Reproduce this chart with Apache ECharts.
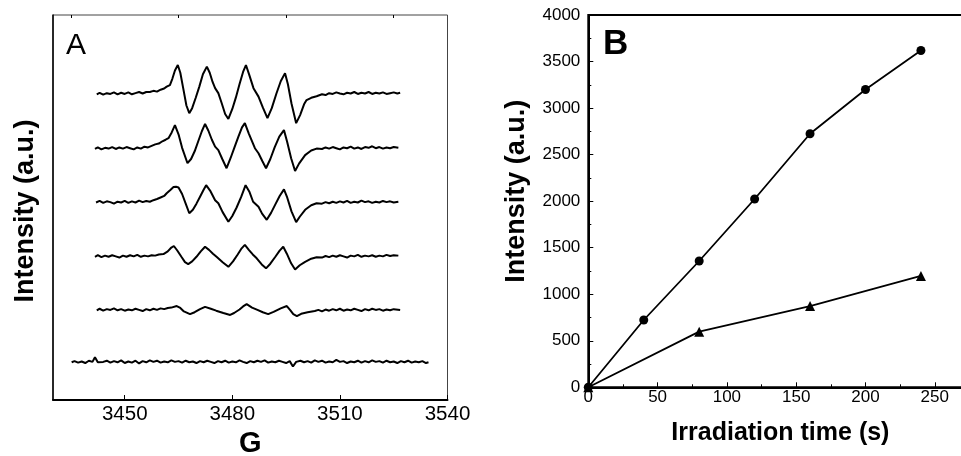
<!DOCTYPE html>
<html>
<head>
<meta charset="utf-8">
<script src="https://cdn.jsdelivr.net/npm/echarts@6/dist/echarts.min.js"></script>
<style>
html,body{margin:0;padding:0;background:#fff;}
#chart{width:961px;height:456px;}
</style>
</head>
<body>
<div id="chart"></div>
<script>
// ---------- Panel A: EPR spectra, [field (G), intensity (a.u., stacked offsets)] ----------
const fieldTicksMajor = [3450, 3480, 3510, 3540];
const fieldTicksMinor = [3435, 3465, 3495, 3525];

const spectrum240s = [[3442.2,79.4],[3443,79.8],[3444,79.3],[3445,79.7],[3446,79.5],[3447,79.9],[3448,79.4],[3449,79.8],[3450,79.5],[3451,79.9],[3452,79.4],[3453,79.7],[3454,80.0],[3455,79.6],[3456,80.0],[3457,80.0],[3458,80.3],[3459,80.1],[3460,80.6],[3461,80.9],[3461.7,81.4],[3462.6,81.8],[3463.3,83.5],[3464,85.6],[3464.8,87.0],[3465.5,85.0],[3466.3,81.0],[3467.2,76.5],[3468,74.5],[3468.8,75.8],[3469.8,78.5],[3470.8,81.4],[3471.8,84.6],[3472.9,86.6],[3473.7,85.0],[3474.5,82.6],[3475.2,81.0],[3476.1,79.7],[3477,77.2],[3478,74.3],[3478.9,73.0],[3480,75.6],[3481,78.6],[3482,82.0],[3483,85.2],[3483.8,87.0],[3484.7,84.5],[3485.9,81.0],[3487.3,78.8],[3488.5,76.0],[3489.8,73.2],[3491,75.8],[3492.3,79.6],[3493.5,82.8],[3494.7,84.9],[3495.5,82.0],[3496.5,77.0],[3497.8,71.9],[3498.9,74.0],[3500,76.8],[3500.7,77.9],[3502,78.5],[3503.5,78.9],[3505,79.4],[3506,79.2],[3507,79.7],[3508,79.5],[3509,79.9],[3510,79.6],[3511,79.4],[3512,79.8],[3513,79.6],[3514,80.0],[3515,79.5],[3516,79.8],[3517,79.6],[3518,80.0],[3519,79.5],[3520,79.8],[3521,79.6],[3522,79.9],[3523,79.5],[3524,79.7],[3525,79.9],[3526,79.6],[3526.8,79.8]];

const spectrum200s = [[3441.7,65.2],[3442.5,65.6],[3443.5,65.1],[3444.5,65.5],[3445.5,65.3],[3446.5,65.7],[3447.5,65.2],[3448.5,65.6],[3449.5,65.3],[3450.5,65.7],[3451.5,65.4],[3452.5,65.1],[3453.5,65.6],[3454.5,65.3],[3455.5,65.8],[3456.5,65.6],[3457.5,66.0],[3458.5,66.4],[3459.5,66.6],[3460.5,67.2],[3461.4,67.6],[3462.2,68.0],[3463.1,69.5],[3464,71.4],[3465,69.0],[3466,65.5],[3467.5,61.5],[3468.5,62.6],[3469.5,64.6],[3470.5,67.2],[3471.5,69.8],[3472.4,71.7],[3473.3,70.0],[3474.3,67.6],[3475.2,65.8],[3476.1,64.9],[3477.2,62.6],[3478.4,60.2],[3479.5,62.8],[3480.6,65.6],[3481.7,68.4],[3482.7,70.8],[3483.5,71.9],[3484.6,69.2],[3486.3,65.4],[3487.3,64.1],[3488.4,62.0],[3489.4,60.2],[3490.6,62.6],[3491.8,65.6],[3493.1,68.4],[3494.4,70.1],[3495.3,67.0],[3496.4,62.8],[3497.5,59.5],[3498.6,61.4],[3500.3,63.6],[3502,64.8],[3503.5,65.3],[3505,65.2],[3506,65.6],[3507,65.3],[3508,65.7],[3509,65.4],[3510,65.1],[3511,65.6],[3512,65.4],[3513,65.8],[3514,65.3],[3515,65.6],[3516,65.2],[3517,65.7],[3518,65.5],[3519,65.9],[3520,65.4],[3521,65.7],[3522,65.3],[3523,65.6],[3524,65.4],[3525,65.7],[3526.3,65.5]];

const spectrum160s = [[3442,51.3],[3443,51.7],[3444,51.2],[3445,51.6],[3446,51.4],[3447,51.0],[3448,51.5],[3449,51.3],[3450,51.7],[3451,51.2],[3452,51.6],[3453,51.3],[3454,51.8],[3455,51.4],[3456,51.7],[3457,51.5],[3458,51.9],[3459,52.2],[3460,52.6],[3461,53.0],[3461.7,53.7],[3462.8,54.6],[3463.6,55.3],[3464.3,55.4],[3465,55.2],[3466,53.5],[3467,51.0],[3468,48.5],[3469,49.4],[3470,51.0],[3471,52.8],[3472,54.6],[3472.7,55.8],[3473.8,54.4],[3475.2,51.9],[3476.1,51.1],[3477.3,48.8],[3478.9,46.3],[3480,47.8],[3481.2,50.0],[3482.5,52.8],[3483.7,55.8],[3484.8,54.0],[3485.8,51.5],[3487.3,50.2],[3488.3,48.4],[3489.6,46.8],[3490.8,48.6],[3492,50.8],[3493.2,53.0],[3494.4,54.7],[3495.3,52.6],[3496.5,49.0],[3497.8,46.2],[3498.8,47.6],[3500.3,49.4],[3502,50.6],[3503.5,51.1],[3505,51.0],[3506,51.4],[3507,51.1],[3508,51.5],[3509,51.2],[3510,51.6],[3511,51.3],[3512,51.7],[3513,51.2],[3514,51.5],[3515,51.3],[3516,51.8],[3517,51.4],[3518,51.6],[3519,51.2],[3520,51.5],[3521,51.3],[3522,51.7],[3523,51.4],[3524,51.6],[3525,51.3],[3526.3,51.5]];

const spectrum80s = [[3441.7,37.2],[3442.5,37.6],[3443.5,37.1],[3444.5,37.5],[3445.5,37.2],[3446.5,37.6],[3447.5,37.3],[3448.5,37.0],[3449.5,37.5],[3450.5,37.2],[3451.5,37.6],[3452.5,37.3],[3453.5,37.7],[3454.5,37.2],[3455.5,37.5],[3456.5,37.3],[3457.5,37.6],[3458.5,37.5],[3459.5,37.8],[3460.8,37.9],[3462,38.6],[3463,39.6],[3463.7,40.0],[3464.6,38.9],[3465.8,37.2],[3466.8,35.8],[3467.7,35.3],[3468.8,36.0],[3470,37.2],[3471.2,38.6],[3472.4,39.8],[3473.5,39.0],[3474.6,38.0],[3475.6,37.2],[3477.3,35.8],[3478.9,34.6],[3480.2,36.0],[3481.5,37.8],[3482.6,39.4],[3483.5,40.3],[3484.6,39.0],[3485.7,37.8],[3486.8,36.8],[3488.2,35.2],[3489.4,34.2],[3490.6,35.4],[3492,37.2],[3493.2,38.8],[3494.2,39.8],[3495.2,38.0],[3496.4,35.5],[3497.5,33.9],[3498.8,35.0],[3500.3,35.9],[3502,36.7],[3503.5,37.1],[3505,37.0],[3506,37.4],[3507,37.1],[3508,37.5],[3509,37.2],[3510,37.6],[3511,37.3],[3512,37.0],[3513,37.5],[3514,37.3],[3515,37.7],[3516,37.2],[3517,37.5],[3518,37.3],[3519,37.6],[3520,37.2],[3521,37.5],[3522,37.3],[3523,37.7],[3524,37.4],[3525,37.6],[3526.3,37.5]];

const spectrum40s = [[3442.2,23.3],[3443,23.7],[3444,23.2],[3445,23.6],[3446,23.4],[3447,23.8],[3448,23.3],[3449,23.6],[3450,23.2],[3451,23.5],[3452,23.3],[3453,23.7],[3454,23.4],[3455,23.1],[3456,23.6],[3457,23.3],[3458,23.7],[3459,23.4],[3460,23.8],[3461,23.6],[3462,23.9],[3463,24.0],[3464.5,24.4],[3465.5,23.9],[3466.5,23.0],[3468.2,22.3],[3469.5,22.8],[3471,23.6],[3472.4,24.2],[3474,23.7],[3475.5,23.2],[3477.5,22.6],[3479.4,22.1],[3480.5,22.6],[3482,23.5],[3483,24.3],[3484,24.9],[3485.5,24.0],[3487,23.4],[3488.5,22.8],[3490,22.3],[3491.5,22.9],[3493.5,23.8],[3495.2,24.4],[3496.2,23.3],[3497,22.3],[3498,21.8],[3499.2,22.4],[3501,22.8],[3503,23.1],[3504,23.4],[3505,23.0],[3506,23.5],[3507,23.2],[3508,23.6],[3509,23.3],[3510,23.7],[3511,23.2],[3512,23.5],[3513,23.3],[3514,23.7],[3515,23.4],[3516,23.1],[3517,23.6],[3518,23.3],[3519,23.7],[3520,23.4],[3521,23.6],[3522,23.2],[3523,23.5],[3524,23.3],[3525,23.6],[3526.8,23.4]];

const spectrum0s = [[3435.2,9.8],[3436,10.1],[3437,9.7],[3438,10.0],[3439,9.6],[3440,10.2],[3441,9.9],[3441.7,11.1],[3442.5,9.8],[3443,10.3],[3444,9.9],[3445,10.2],[3446,9.7],[3447,10.1],[3448,9.8],[3449,10.3],[3450,9.6],[3451,10.0],[3452,9.7],[3453,10.2],[3454,9.5],[3455,10.1],[3456,9.8],[3457,10.3],[3458,9.9],[3459,10.2],[3460,9.7],[3461,10.0],[3462,9.8],[3463,10.3],[3464,9.9],[3465,10.1],[3466,9.7],[3467,10.2],[3468,9.8],[3469,10.0],[3470,9.6],[3471,10.1],[3472,9.8],[3473,10.2],[3474,9.9],[3475,9.6],[3476,10.1],[3477,9.8],[3478,10.2],[3479,9.7],[3480,10.0],[3481,9.8],[3482,10.3],[3483,9.9],[3484,9.6],[3485,10.1],[3486,9.8],[3487,10.2],[3488,9.9],[3489,10.3],[3490,9.7],[3491,10.0],[3492,9.8],[3493,10.2],[3494,9.9],[3495,9.6],[3496,10.1],[3496.9,8.7],[3497.8,9.9],[3499,10.2],[3500,9.8],[3501,10.1],[3502,9.7],[3503,10.3],[3504,9.9],[3505,10.2],[3506,9.7],[3507,10.0],[3508,9.8],[3509,10.4],[3510,9.9],[3511,10.1],[3512,9.6],[3513,10.0],[3514,9.8],[3515,10.2],[3516,9.7],[3517,10.1],[3518,9.8],[3519,10.3],[3520,9.9],[3521,10.1],[3522,9.7],[3523,10.2],[3524,9.8],[3525,10.0],[3526,9.6],[3527,10.1],[3528,9.8],[3529,10.2],[3530,9.7],[3531,10.0],[3532,9.8],[3533,10.1],[3534,9.6],[3534.7,9.8]];

// ---------- Panel B: intensity vs irradiation time ----------
const timeCircles = [0, 40, 80, 120, 160, 200, 240];
const intensityCircles = [0, 723, 1357, 2023, 2724, 3200, 3618];
const timeTriangles = [0, 80, 160, 240];
const intensityTriangles = [0, 598, 873, 1196];

const FONT = 'Liberation Sans, Arial, Helvetica, sans-serif';
const zip = (xs, ys) => xs.map((x, i) => [x, ys[i]]);
const plain = v => String(v);

const spectra = [spectrum240s, spectrum200s, spectrum160s, spectrum80s, spectrum40s, spectrum0s];

const chart = echarts.init(document.getElementById('chart'), null, {renderer: 'canvas'});
const option = {
  backgroundColor: '#fff',
  animation: false,
  grid: [
    {left: 53, top: 15, width: 394.5, height: 385, outerBoundsMode: 'none', containLabel: false, show: true, borderColor: '#444', borderWidth: 1, backgroundColor: 'transparent'},
    {left: 588.3, top: 15, width: 374.2, height: 372.3, outerBoundsMode: 'none', containLabel: false, show: true, borderColor: '#000', borderWidth: 2, backgroundColor: 'transparent'}
  ],
  xAxis: [
    {
      gridIndex: 0, type: 'value', min: 3430, max: 3540,
      splitLine: {show: false},
      axisLine: {show: true, lineStyle: {color: '#000', width: 2}},
      axisTick: {show: true, inside: true, length: 5, customValues: fieldTicksMajor, lineStyle: {color: '#000', width: 1}},
      axisLabel: {show: true, customValues: fieldTicksMajor, formatter: plain, fontSize: 20.5, color: '#000', fontFamily: FONT, margin: 4},
      name: 'G', nameLocation: 'middle', nameGap: 27,
      nameTextStyle: {fontSize: 29, fontWeight: 'bold', color: '#000', fontFamily: FONT}
    },
    {
      gridIndex: 0, type: 'value', min: 3430, max: 3540,
      splitLine: {show: false},
      axisLine: {show: false},
      axisTick: {show: true, inside: true, length: 3, customValues: fieldTicksMinor, lineStyle: {color: '#000', width: 1}},
      axisLabel: {show: false}
    },
    {
      gridIndex: 1, type: 'value', min: 0, max: 270, interval: 50,
      splitLine: {show: false},
      axisLine: {show: true, lineStyle: {color: '#000', width: 2}},
      axisTick: {show: true, inside: true, length: 5, lineStyle: {color: '#000', width: 1}},
      minorTick: {show: true, splitNumber: 2, length: 3, lineStyle: {color: '#000', width: 1}},
      axisLabel: {fontSize: 17, formatter: plain, color: '#000', fontFamily: FONT, margin: 2, showMaxLabel: false},
      name: 'Irradiation time (s)', nameLocation: 'middle', nameGap: 33,
      nameTextStyle: {fontSize: 25, fontWeight: 'bold', color: '#000', fontFamily: FONT, padding: [0, 0, 0, 10]}
    }
  ],
  yAxis: [
    {
      gridIndex: 0, type: 'value', min: 0, max: 100,
      splitLine: {show: false},
      axisLine: {show: true, lineStyle: {color: '#000', width: 1.5}},
      axisTick: {show: false},
      axisLabel: {show: false},
      name: 'Intensity (a.u.)', nameLocation: 'middle', nameGap: 14,
      nameTextStyle: {fontSize: 27, fontWeight: 'bold', color: '#000', fontFamily: FONT, padding: [0, 7, 0, 0]}
    },
    {
      gridIndex: 1, type: 'value', min: 0, max: 4000, interval: 500,
      splitLine: {show: false},
      axisLine: {show: true, lineStyle: {color: '#000', width: 2}},
      axisTick: {show: true, inside: true, length: 5, lineStyle: {color: '#000', width: 1}},
      minorTick: {show: true, splitNumber: 2, length: 3, lineStyle: {color: '#000', width: 1}},
      axisLabel: {fontSize: 17, formatter: plain, color: '#000', fontFamily: FONT, margin: 8},
      name: 'Intensity (a.u.)', nameLocation: 'middle', nameGap: 58,
      nameTextStyle: {fontSize: 27, fontWeight: 'bold', color: '#000', fontFamily: FONT, padding: [0, 0, 0, 20]}
    }
  ],
  graphic: [
    {type: 'text', left: 66, top: 31, style: {text: 'A', font: '30px ' + FONT, fill: '#000'}},
    {type: 'text', left: 603, top: 27, style: {text: 'B', font: 'bold 35px ' + FONT, fill: '#000'}}
  ],
  series: spectra.map(d => ({
    type: 'line', xAxisIndex: 0, yAxisIndex: 0, data: d,
    showSymbol: false, symbol: 'none', smooth: false,
    lineStyle: {color: '#000', width: 2}, silent: true
  })).concat([
    {
      type: 'line', xAxisIndex: 2, yAxisIndex: 1, data: zip(timeCircles, intensityCircles),
      symbol: 'circle', symbolSize: 9, itemStyle: {color: '#000'},
      lineStyle: {color: '#000', width: 1.8}
    },
    {
      type: 'line', xAxisIndex: 2, yAxisIndex: 1, data: zip(timeTriangles, intensityTriangles),
      symbol: 'triangle', symbolSize: 10, itemStyle: {color: '#000'},
      lineStyle: {color: '#000', width: 1.8}
    }
  ])
};
chart.setOption(option);
</script>
</body>
</html>
